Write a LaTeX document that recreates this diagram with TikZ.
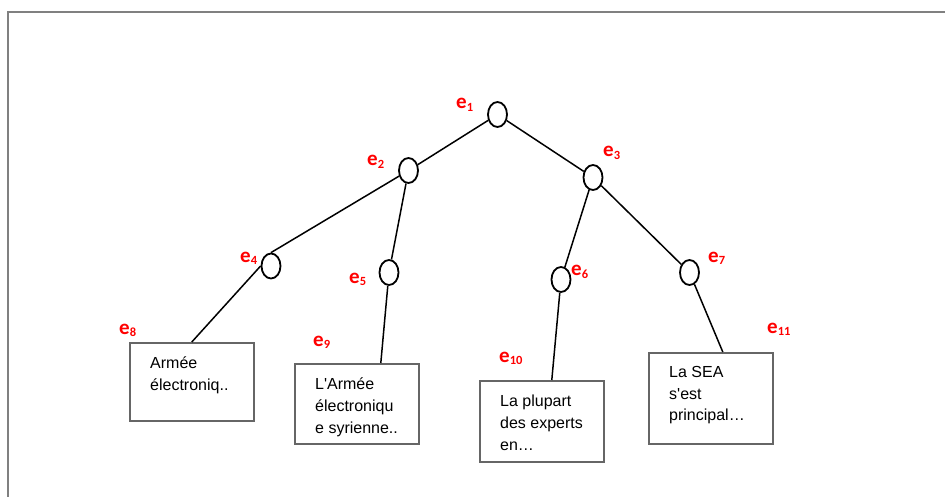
\documentclass[tikz,border=0pt]{standalone}
\usepackage{fontspec}
\setmainfont{Liberation Sans}
\newfontfamily\tagfont{Carlito}
\usetikzlibrary{shapes.geometric}
\newcommand{\ename}[1]{e\raisebox{-2.5pt}{\fontsize{12.5}{12.5}\selectfont #1}}

\begin{document}
\begin{tikzpicture}[x=1pt,y=-1pt,
    hub/.style={draw, ellipse, line width=1.8, minimum width=19, minimum height=25, inner sep=0},
    leaf/.style={draw=black!60, line width=1.6, minimum width=124, inner sep=0, anchor=north west},
    tag/.style={anchor=base west, inner sep=0, text=red, font=\tagfont\bfseries\fontsize{21}{21}\selectfont},
    blurb/.style={anchor=north west, inner sep=0, align=left, font=\fontsize{16}{21.7}\selectfont}]
  \useasboundingbox (0,0) rectangle (945,497);
  \draw[black!50, line width=1.8] (945,12) -- (8,12) -- (8,497);

  \node[hub] (e1) at (497.5,114.5) {};
  \node[hub] (e2) at (408.5,170.5) {};
  \node[hub] (e3) at (593,177.5) {};
  \node[hub] (e4) at (271,266) {};
  \node[hub] (e5) at (389,272.5) {};
  \node[hub] (e6) at (561,279.5) {};
  \node[hub] (e7) at (689.5,272.5) {};

  \node[leaf, minimum height=78] (b8) at (129,342) {};
  \node[leaf, minimum height=80] (b9) at (294,363) {};
  \node[leaf, minimum height=81] (b10) at (479,380) {};
  \node[leaf, minimum height=91] (b11) at (648,352) {};

  \node[blurb] (t8) at (150,357) {Armée\\électroniq..};
  \node[blurb] (t9) at (315,378) {L\textquotesingle Armée\\électroniqu\\e syrienne..};
  \node[blurb] (t10) at (500,395) {La plupart\\des experts\\en…};
  \node[blurb] (t11) at (669,366) {La SEA\\s\textquotesingle est\\principal…};

  \draw[line width=1.5] (e1) -- (e2) (e1) -- (e3)
    (e2) -- (e4.north) (e2) -- (e5) (e3) -- (e6) (e3) -- (e7)
    (e4.west) -- (b8.north)
    (e5) -- ([xshift=24]b9.north)
    (e6) -- ([xshift=10]b10.north)
    (e7) -- ([xshift=12]b11.north);

  \node[tag] (l1) at (456,109) {\ename{1}};
  \node[tag] (l2) at (367,166) {\ename{2}};
  \node[tag] (l3) at (603,157) {\ename{3}};
  \node[tag] (l4) at (240,262) {\ename{4}};
  \node[tag] (l5) at (349,283) {\ename{5}};
  \node[tag] (l6) at (571,276) {\ename{6}};
  \node[tag] (l7) at (708,262) {\ename{7}};
  \node[tag] (l8) at (119,334) {\ename{8}};
  \node[tag] (l9) at (313,346) {\ename{9}};
  \node[tag] (l10) at (499,362) {\ename{10}};
  \node[tag] (l11) at (767,333) {\ename{11}};
\end{tikzpicture}
\end{document}
